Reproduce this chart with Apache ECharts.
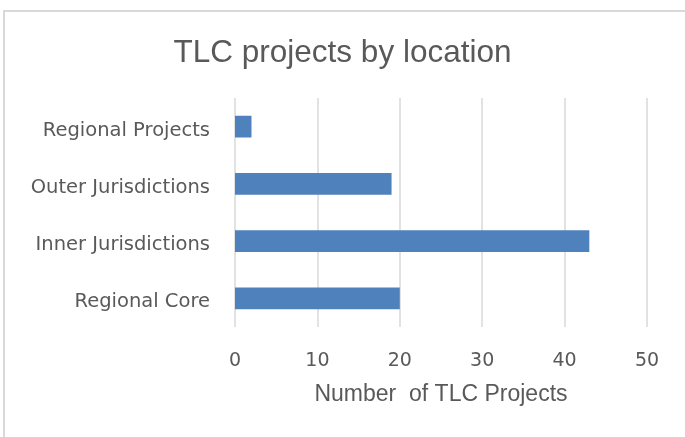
<!DOCTYPE html>
<html>
<head>
<meta charset="utf-8">
<script src="https://cdn.jsdelivr.net/npm/echarts@6/dist/echarts.min.js"></script>
<style>
	html, body { margin: 0; padding: 0; background: #fff; }
	#frame { position: absolute; left: 3px; top: 10px; width: 700px; height: 450px;
		border-left: 2px solid #d9d9d9; border-top: 2px solid #d9d9d9; }
	#chart { position: absolute; left: 0; top: 0; width: 685px; height: 437px; }
</style>
</head>
<body>
<div id="frame"></div>
<div id="chart"></div>
<script>
var categories = ['Regional Core', 'Inner Jurisdictions', 'Outer Jurisdictions', 'Regional Projects'];
var projects = [20, 43, 19, 2];
var xTicks = [0, 10, 20, 30, 40, 50];

var textColor = '#595959';
var font = '"Liberation Sans", Arial, sans-serif';
var wideFont = '"DejaVu Sans", Verdana, sans-serif';

var myChart = echarts.init(document.getElementById('chart'));
var option = {
	animation : false,
	title : {
		text : 'TLC projects by location',
		left : 'center',
		top : 32,
		textStyle : {
			color : textColor,
			fontSize : 31.5,
			fontWeight : 'normal',
			fontFamily : font
		}
	},
	grid : {
		left : 235,
		right : 38,
		top : 98,
		bottom : 110,
		containLabel : false
	},
	xAxis : {
		type : 'value',
		min : xTicks[0],
		max : xTicks[xTicks.length - 1],
		interval : 10,
		name : 'Number  of TLC Projects',
		nameLocation : 'middle',
		nameGap : 56,
		nameTextStyle : {
			color : textColor,
			fontSize : 23,
			fontFamily : font
		},
		axisLine : { show : false },
		axisTick : { show : false },
		axisLabel : {
			color : textColor,
			fontSize : 19,
			margin : 25,
			fontFamily : wideFont
		},
		splitLine : {
			lineStyle : { color : '#d9d9d9', width : 1.5 }
		}
	},
	yAxis : {
		type : 'category',
		data : categories,
		axisLine : { show : false },
		axisTick : { show : false },
		axisLabel : {
			color : textColor,
			fontSize : 19.5,
			margin : 25,
			verticalAlign : 'top',
			lineHeight : 8,
			fontFamily : wideFont
		}
	},
	series : [ {
		name : 'TLC Projects',
		type : 'bar',
		data : projects,
		barWidth : '38%',
		itemStyle : { color : '#4f81bd' }
	} ]
};
myChart.setOption(option);
</script>
</body>
</html>
